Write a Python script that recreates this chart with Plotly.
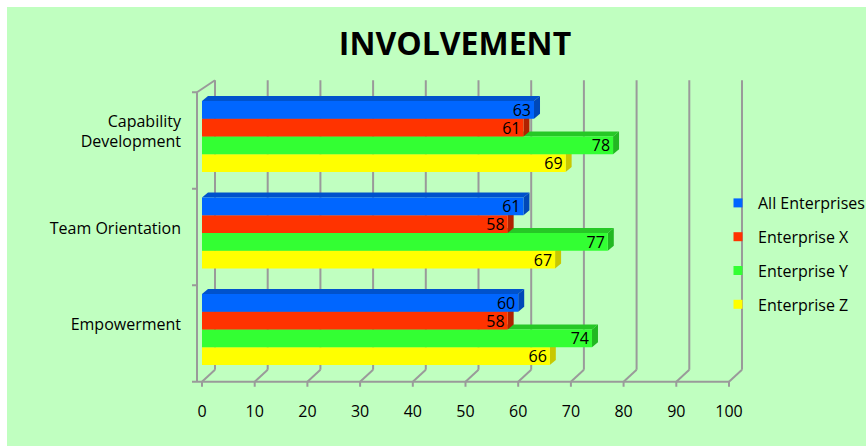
import plotly.graph_objects as go

# ---------------- data ----------------
categories = ["Empowerment", "Team Orientation", "Capability<br>Development"]
series_names = ["All Enterprises", "Enterprise X", "Enterprise Y", "Enterprise Z"]
all_enterprises = [60, 61, 63]
enterprise_x = [58, 58, 61]
enterprise_y = [74, 77, 78]
enterprise_z = [66, 67, 69]
x_ticks = [0, 10, 20, 30, 40, 50, 60, 70, 80, 90, 100]
title_text = "INVOLVEMENT"

series_values = [all_enterprises, enterprise_x, enterprise_y, enterprise_z]
front_colors = ["#0066FF", "#FF3300", "#33FF33", "#FFFF00"]
side_colors = ["#0048B8", "#B02200", "#22B822", "#C8C800"]
top_colors = ["#0052CC", "#C82800", "#26C826", "#D8D800"]

# ---------------- geometry ----------------
W, H = 866, 446
PPU_X, X0_PX = 5.27, 202.0      # pixels per unit, pixel of value 0
PPU_Y, Y0_PX = 96.5, 329.5      # pixels per category, pixel of first category
PL, PR, PT, PB = 192, 745, 78, 392
BORDER_PX = 7
BAR_W = 0.184                   # bar thickness in category units
BAR_DX_PX, BAR_DY_PX = 6, 5     # bar depth
WALL_DX_PX, WALL_DY_PX = 13, 12 # wall depth
AXIS_SHIFT_PX = 4
AXIS_X_PX = 197
TICK_PX = 5
GRID_COLOR = "#9A9A9A"
BG = "#C0FFC0"
FONT = "Open Sans"


def xd(px):
    return (px - X0_PX) / PPU_X


def yd(py):
    return (Y0_PX - py) / PPU_Y


def ypix(v):
    return Y0_PX - v * PPU_Y


def xpaper(px):
    return (px - PL) / (PR - PL)


def ypaper(py):
    return (PB - py) / (PB - PT)


fig = go.Figure()

# bar offsets: All on top, then X, Y, Z
offsets = [BAR_W, 0.0, -BAR_W, -2 * BAR_W]
cat_pos = list(range(len(categories)))

# add bottom-most series first
for k in reversed(range(len(series_names))):
    vals = series_values[k]
    fig.add_trace(go.Bar(
        y=cat_pos, x=vals, orientation="h",
        width=BAR_W, offset=offsets[k],
        marker=dict(color=front_colors[k], line=dict(width=0)),
        text=[str(v) for v in vals], textposition="inside",
        insidetextanchor="end", textangle=0, constraintext="none",
        textfont=dict(family=FONT, size=16, color="#000000"),
        showlegend=False, hoverinfo="skip", name=series_names[k],
    ))

# legend entries
for k, name in enumerate(series_names):
    fig.add_trace(go.Scatter(
        x=[None], y=[None], mode="markers", name=name,
        legendgroup=name,
        marker=dict(symbol="square", size=9, color=front_colors[k]),
    ))

shapes = []
# background with thin white border
shapes.append(dict(type="rect", xref="paper", yref="paper",
                   x0=xpaper(BORDER_PX), x1=xpaper(W + 10),
                   y0=ypaper(H + 10), y1=ypaper(BORDER_PX),
                   fillcolor=BG, line=dict(width=0), layer="below"))

ddx = WALL_DX_PX / PPU_X
floor_px = ypix(-0.5) + AXIS_SHIFT_PX
top_axis_px = ypix(len(categories) - 0.5) + AXIS_SHIFT_PX
wall_top_px = top_axis_px - WALL_DY_PX
line_style = dict(color=GRID_COLOR, width=2)

for v in x_ticks:
    # back wall gridline
    shapes.append(dict(type="line", xref="x", yref="y", layer="below",
                       x0=v + ddx, x1=v + ddx,
                       y0=yd(floor_px - WALL_DY_PX), y1=yd(wall_top_px),
                       line=line_style))
    # floor diagonal
    shapes.append(dict(type="line", xref="x", yref="y", layer="below",
                       x0=v, x1=v + ddx,
                       y0=yd(floor_px), y1=yd(floor_px - WALL_DY_PX),
                       line=line_style))
    # front tick
    shapes.append(dict(type="line", xref="x", yref="y", layer="below",
                       x0=v, x1=v, y0=yd(floor_px), y1=yd(floor_px + TICK_PX),
                       line=line_style))

# front floor line
shapes.append(dict(type="line", xref="x", yref="y", layer="below",
                   x0=xd(AXIS_X_PX), x1=x_ticks[-1],
                   y0=yd(floor_px), y1=yd(floor_px), line=line_style))
# left axis line
shapes.append(dict(type="line", xref="x", yref="y", layer="below",
                   x0=xd(AXIS_X_PX), x1=xd(AXIS_X_PX),
                   y0=yd(floor_px), y1=yd(top_axis_px), line=line_style))
# left top diagonal
shapes.append(dict(type="line", xref="x", yref="y", layer="below",
                   x0=xd(AXIS_X_PX), x1=x_ticks[0] + ddx,
                   y0=yd(top_axis_px), y1=yd(wall_top_px), line=line_style))
# left axis ticks at category boundaries
for b in [c - 0.5 for c in cat_pos] + [len(categories) - 0.5]:
    py = ypix(b) + AXIS_SHIFT_PX
    shapes.append(dict(type="line", xref="x", yref="y", layer="below",
                       x0=xd(AXIS_X_PX - TICK_PX), x1=xd(AXIS_X_PX),
                       y0=yd(py), y1=yd(py), line=line_style))

# 3D faces for bars (bottom bars first)
bdx = BAR_DX_PX / PPU_X
bdy = BAR_DY_PX / PPU_Y
for i in cat_pos:
    for k in reversed(range(len(series_names))):
        v = series_values[k][i]
        yb = i + offsets[k]
        yt = yb + BAR_W
        top_path = (f"M 0,{yt} L {v},{yt} L {v + bdx},{yt + bdy} "
                    f"L {bdx},{yt + bdy} Z")
        side_path = (f"M {v},{yb} L {v + bdx},{yb + bdy} "
                     f"L {v + bdx},{yt + bdy} L {v},{yt} Z")
        shapes.append(dict(type="path", xref="x", yref="y", layer="below",
                           path=top_path, fillcolor=top_colors[k],
                           line=dict(width=0)))
        shapes.append(dict(type="path", xref="x", yref="y", layer="below",
                           path=side_path, fillcolor=side_colors[k],
                           line=dict(width=0)))

fig.update_layout(
    width=W, height=H,
    margin=dict(l=PL, r=W - PR, t=PT, b=H - PB, pad=0, autoexpand=False),
    paper_bgcolor="#FFFFFF", plot_bgcolor="rgba(0,0,0,0)",
    barmode="overlay",
    shapes=shapes,
    title=dict(text=f"<b>{title_text}</b>", x=455 / W, xref="container",
               y=1 - 44 / H, yref="container", xanchor="center",
               yanchor="middle",
               font=dict(family=FONT, size=32, color="#000000")),
    xaxis=dict(range=[xd(PL), xd(PR)], tickvals=x_ticks,
               ticktext=[str(t) for t in x_ticks], showgrid=False,
               zeroline=False, showline=False, ticks="",
               ticklabelstandoff=8, automargin=False,
               tickfont=dict(family=FONT, size=16, color="#000000")),
    yaxis=dict(range=[yd(PB), yd(PT)], tickvals=cat_pos,
               ticktext=categories, showgrid=False, zeroline=False,
               showline=False, ticks="", ticklabelstandoff=10,
               ticklabelshift=-5, automargin=False,
               tickfont=dict(family=FONT, size=16, color="#000000")),
    legend=dict(xref="container", yref="container", x=718 / W,
                y=1 - 186 / H, xanchor="left", yanchor="top",
                bgcolor="rgba(0,0,0,0)", tracegroupgap=10,
                font=dict(family=FONT, size=16, color="#000000"),
                itemwidth=30),
    showlegend=True,
)

fig.write_html("out.html")
